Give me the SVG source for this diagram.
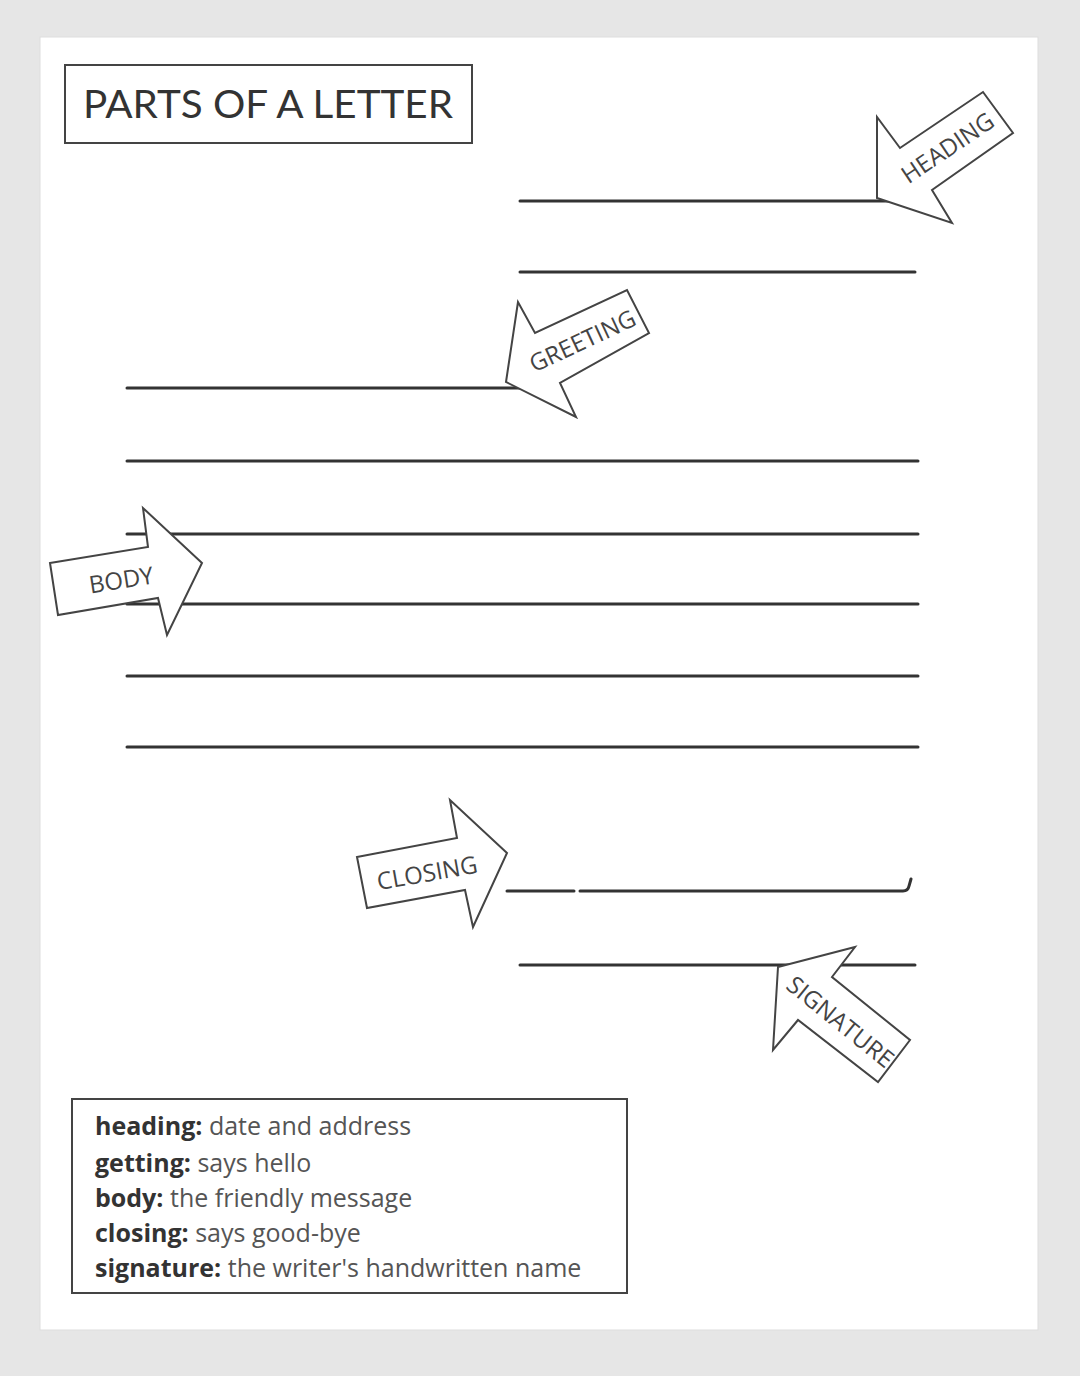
<svg xmlns="http://www.w3.org/2000/svg" width="1080" height="1376" viewBox="0 0 1080 1376">
<style>
.ln{stroke:#333;stroke-width:3;fill:none;stroke-linecap:round}
.arr{fill:#fff;stroke:#444;stroke-width:2;stroke-linejoin:miter}
.lbl{font-family:"Open Sans","Noto Sans",sans-serif;font-size:24px;fill:#444;text-anchor:middle;dominant-baseline:central}
.leg{font-family:"Open Sans","Noto Sans",sans-serif;font-size:25px;fill:#555}
.leg .b{font-weight:bold;fill:#333}
</style>
<rect x="0" y="0" width="1080" height="1376" fill="#e6e6e6"/>
<rect x="40" y="37" width="998" height="1293" fill="#fff" stroke="#ddd" stroke-width="1"/>
<g id="title">
<rect x="65" y="65" width="407" height="78" fill="#fff" stroke="#444" stroke-width="2"/>
<text x="83" y="118" font-family="Lato,'Open Sans',sans-serif" font-size="38" fill="#333" textLength="370" lengthAdjust="spacingAndGlyphs">PARTS OF A LETTER</text>
</g>
<g id="lines">
<line class="ln" x1="520" y1="201" x2="915" y2="201"/>
<line class="ln" x1="520" y1="272" x2="915" y2="272"/>
<line class="ln" x1="127" y1="388" x2="522" y2="388"/>
<line class="ln" x1="127" y1="461" x2="918" y2="461"/>
<line class="ln" x1="127" y1="534" x2="918" y2="534"/>
<line class="ln" x1="127" y1="604" x2="918" y2="604"/>
<line class="ln" x1="127" y1="676" x2="918" y2="676"/>
<line class="ln" x1="127" y1="747" x2="918" y2="747"/>
<path class="ln" d="M507 891 H574 M580 891 H903 Q908 891 909 886 L911 879"/>
<line class="ln" x1="520" y1="965" x2="915" y2="965"/>
</g>
<g id="heading-arrow">
<polygon class="arr" points="877,117 877,198 952,223 932,190 1013,133 983,92 900,148"/>
<text class="lbl" transform="translate(947,147) rotate(-34)">HEADING</text>
</g>
<g id="greeting-arrow">
<polygon class="arr" points="518,302 506,382 576,417 560,383 649,333 627,290 535,333"/>
<text class="lbl" transform="translate(582,340) rotate(-25)">GREETING</text>
</g>
<g id="body-arrow">
<polygon class="arr" points="50,563 148,547 143,508 202,563 167,635 158,598 58,615"/>
<text class="lbl" transform="translate(121,579) rotate(-9)">BODY</text>
</g>
<g id="closing-arrow">
<polygon class="arr" points="357,857 457,838 450,800 507,853 473,927 465,890 367,908"/>
<text class="lbl" transform="translate(427,872) rotate(-10)">CLOSING</text>
</g>
<g id="signature-arrow">
<polygon class="arr" points="778,967 855,947 832,977 910,1040 878,1082 798,1020 773,1050"/>
<text class="lbl" transform="translate(841,1021) rotate(39)">SIGNATURE</text>
</g>
<g id="legend">
<rect x="72" y="1099" width="555" height="194" fill="#fff" stroke="#444" stroke-width="2"/>
<text class="leg" x="95" y="1135"><tspan class="b">heading:</tspan> date and address</text>
<text class="leg" x="95" y="1172"><tspan class="b">getting:</tspan> says hello</text>
<text class="leg" x="95" y="1207"><tspan class="b">body:</tspan> the friendly message</text>
<text class="leg" x="95" y="1242"><tspan class="b">closing:</tspan> says good-bye</text>
<text class="leg" x="95" y="1277"><tspan class="b">signature:</tspan> the writer's handwritten name</text>
</g>
</svg>
